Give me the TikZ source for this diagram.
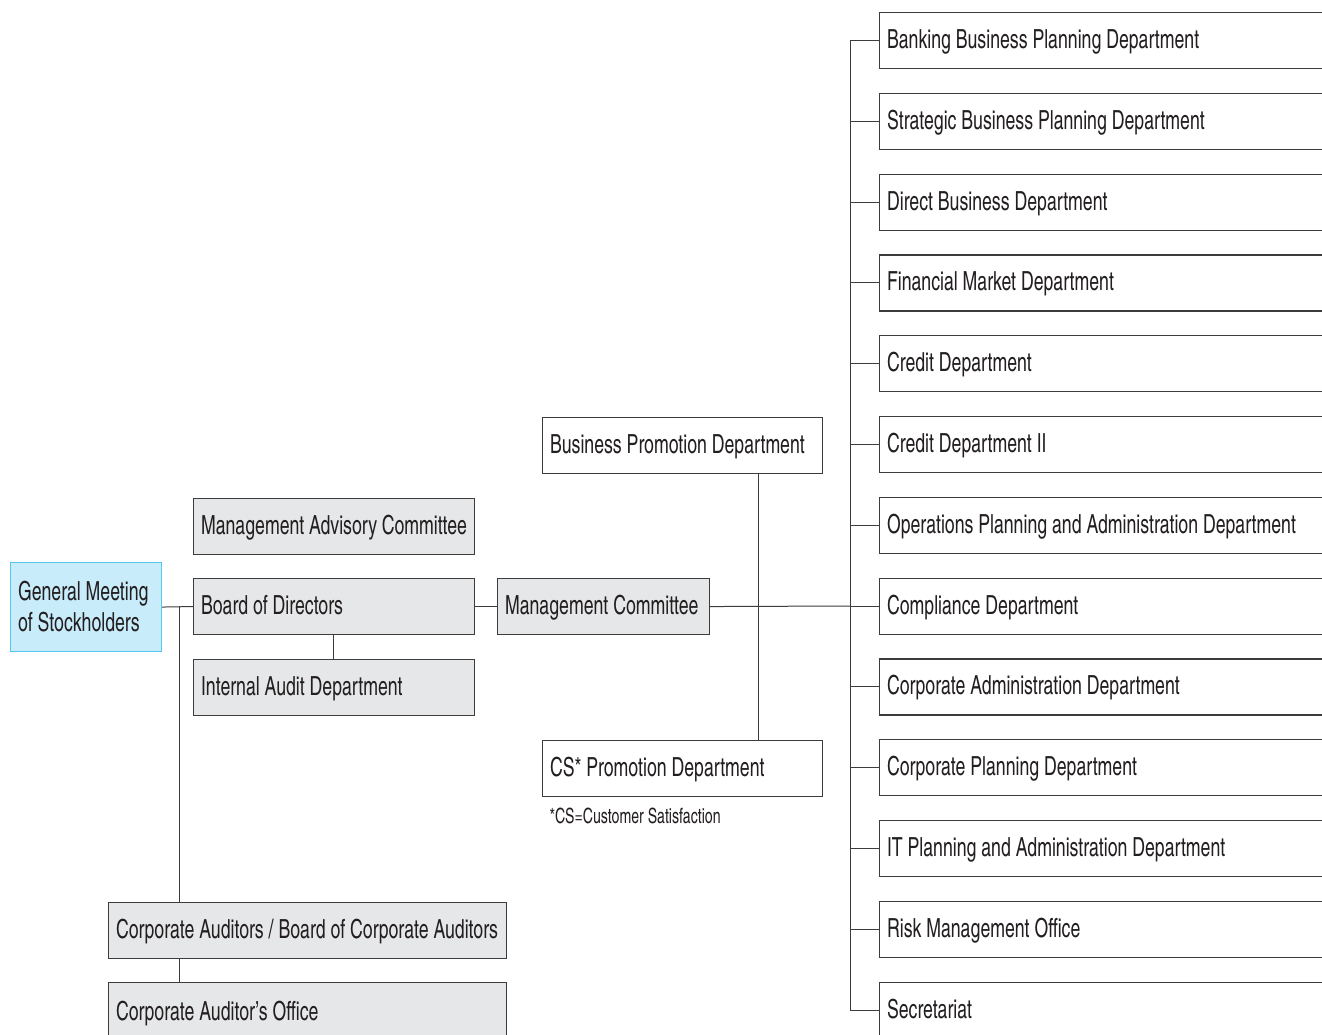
\documentclass[tikz,border=0pt]{standalone}
\usepackage{fontspec}
\setmainfont{texgyreheroscn-regular.otf}[FakeStretch=0.82]
\begin{document}
\begin{tikzpicture}[x=1pt,y=-1pt,
  line width=1.1pt,
  every node/.style={font=\fontsize{26.3}{31}\selectfont},
  box/.style={draw=linec, rectangle, anchor=north west, minimum height=56pt,
    inner xsep=7.5pt, inner ysep=0pt, align=flush left, text=textc,
    text height=20pt, text depth=4pt,
    execute at begin node={\spaceskip=0pt\xspaceskip=0pt\relax}},
  wbox/.style={box, fill=white},
  gbox/.style={box, fill=grayf},
  bbox/.style={box, draw=bluel, fill=bluef, minimum height=89pt,
    text height={}, text depth={}},
  link/.style={draw=linec, line width=1pt}]
\definecolor{linec}{HTML}{3C3C3C}
\definecolor{textc}{HTML}{231F20}
\definecolor{grayf}{HTML}{E6E7E8}
\definecolor{bluef}{HTML}{C9ECFA}
\definecolor{bluel}{HTML}{55C5EE}
\useasboundingbox (0,0) rectangle (1322,1035);

% left side: governance bodies
\node[bbox, text width=136pt] (gm) at (10,562) {General Meeting\\of Stockholders};
\node[gbox, text width=266pt] (mac) at (193,498) {Management Advisory Committee};
\node[gbox, text width=266pt] (bod) at (193,578) {Board of Directors};
\node[gbox, text width=266pt] (iad) at (193,659) {Internal Audit Department};
\node[gbox, text width=383pt] (ca) at (108,902) {Corporate Auditors / Board of Corporate Auditors};
\node[gbox, text width=383pt, minimum height=60pt] (cao) at (108,982) {Corporate Auditor’s Office};

% middle: management committee and its two departments
\node[gbox, text width=197pt] (mc) at (497,578) {Management Committee};
\node[wbox, text width=265pt] (bpd) at (542,417) {Business Promotion Department};
\node[wbox, text width=265pt] (cspd) at (542,740) {CS* Promotion Department};
\node[anchor=north west, inner sep=0pt, text=textc, font=\fontsize{21}{24}\selectfont] (note) at (549,807) {*CS=Customer Satisfaction};

% right column: departments under the management committee
\foreach \i/\name/\txt in {
  0/d0/Banking Business Planning Department,
  1/d1/Strategic Business Planning Department,
  2/d2/Direct Business Department,
  3/d3/Financial Market Department,
  4/d4/Credit Department,
  5/d5/Credit Department II,
  6/d6/Operations Planning and Administration Department,
  7/d7/Compliance Department,
  8/d8/Corporate Administration Department,
  9/d9/Corporate Planning Department,
  10/d10/IT Planning and Administration Department,
  11/d11/Risk Management Office,
  12/d12/Secretariat}
{
  \node[wbox, text width=460pt] (\name) at (879,{12+80.8*\i}) {\txt};
}

% connectors
\coordinate (gmj) at (179,606);
\draw[link] (gm.east) -- (bod.west);
\draw[link] (gmj) -- (gmj |- ca.north);
\draw[link] (bod.south -| 333,0) -- (iad.north -| 333,0);
\draw[link] (ca.south -| gmj) -- (cao.north -| gmj);
\draw[link] (bod.east) -- (mc.west);
\coordinate (trunk) at (850,606);
\draw[link] (mc.east) -- (trunk);
\draw[link] (bpd.south -| 758,0) -- (cspd.north -| 758,0);
\draw[link] (trunk |- d0.west) -- (trunk |- d12.west);
\foreach \i in {0,...,12}{
  \draw[link] (trunk |- d\i.west) -- (d\i.west);
}
\end{tikzpicture}
\end{document}
